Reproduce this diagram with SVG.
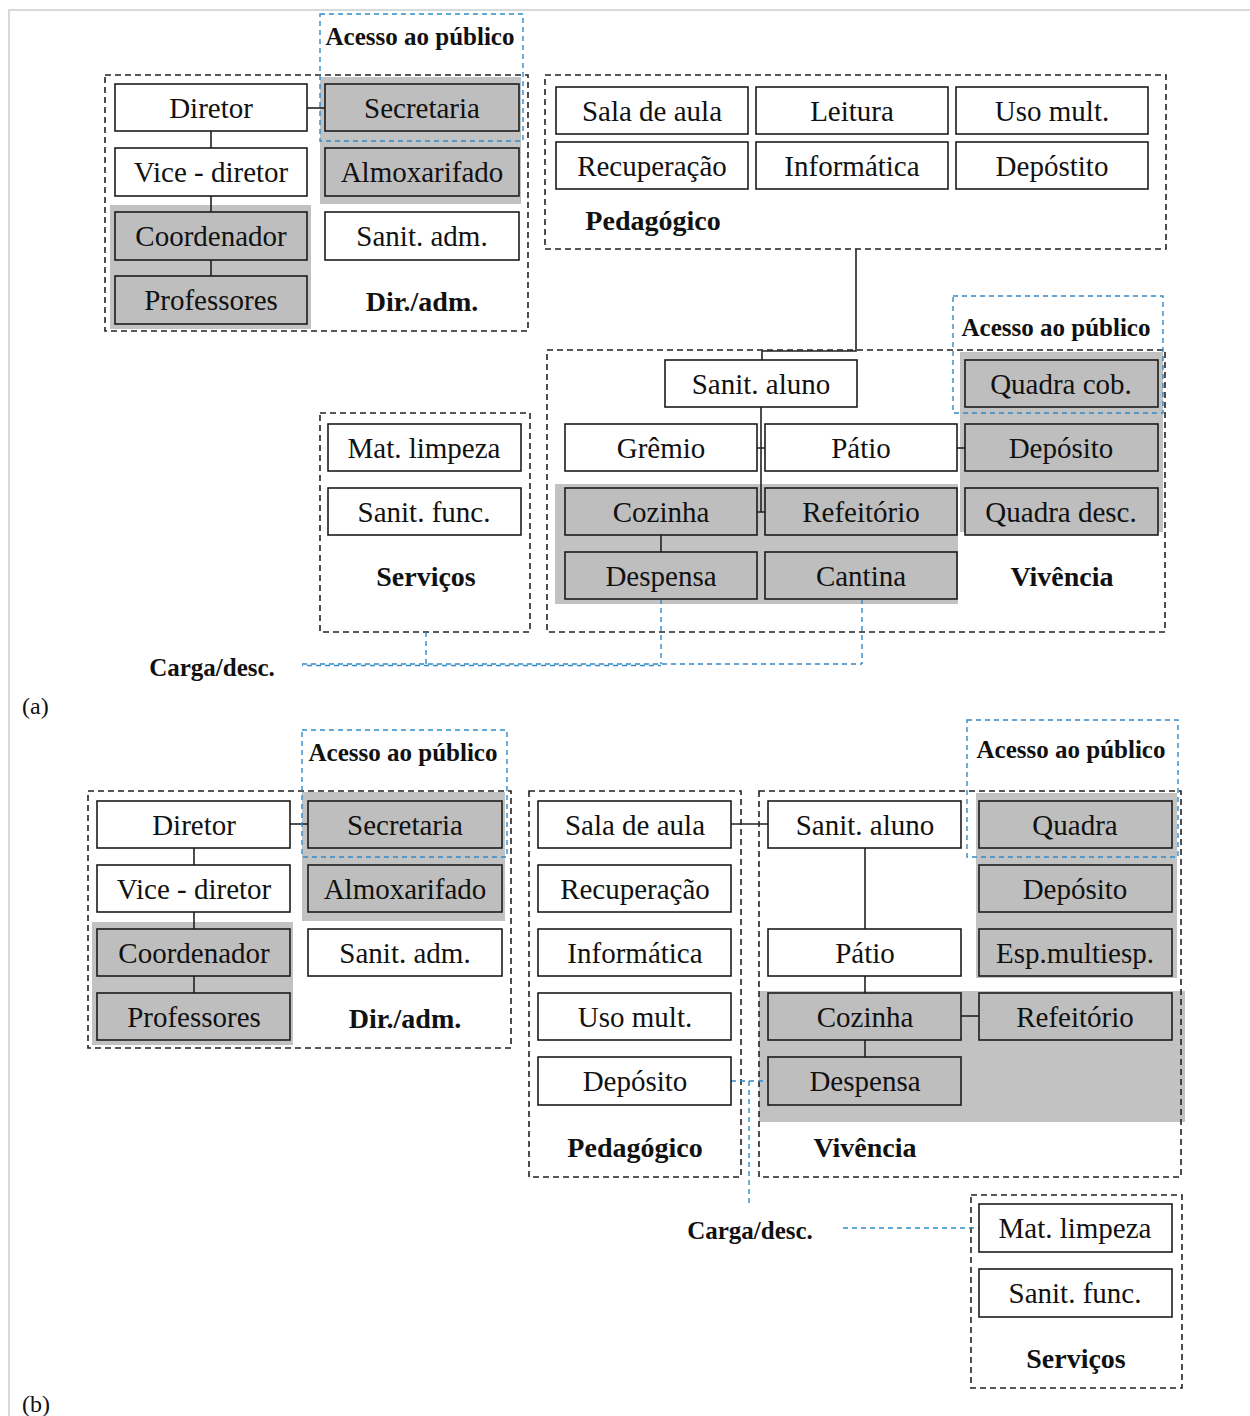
<svg xmlns="http://www.w3.org/2000/svg" width="1250" height="1416" viewBox="0 0 1250 1416">
  <style>
    .bg { fill: #ffffff; }
    .frame { stroke: #d9d9d9; stroke-width: 2; fill: none; }
    .shade { fill: #c2c2c2; }
    .n { fill: #ffffff; stroke: #1c1c1c; stroke-width: 1.6; }
    .g { fill: #bebebe; stroke: #1c1c1c; stroke-width: 1.6; }
    .grp { fill: none; stroke: #222222; stroke-width: 1.6; stroke-dasharray: 6 4; }
    .pub { fill: none; stroke: #2f8ac8; stroke-width: 1.4; stroke-dasharray: 5 4; }
    .wire { fill: none; stroke: #222222; stroke-width: 1.6; }
    .load { fill: none; stroke: #2f8ac8; stroke-width: 1.4; stroke-dasharray: 5 4; }
    text { font-family: "Liberation Serif", "Times New Roman", serif; fill: #111111; text-anchor: middle; }
    .t { font-size: 29px; }
    .lb { font-size: 28px; font-weight: bold; }
    .pl { font-size: 25px; font-weight: bold; }
    .cap { font-size: 24px; text-anchor: start; }
  </style>

  <rect class="bg" x="0" y="0" width="1250" height="1416"/>
  <!-- page frame (top and left rule) -->
  <path class="frame" d="M9 1416 V10 H1250"/>

  <!-- light grey pads behind grouped rooms -->
  <g id="pads">
    <rect class="shade" x="110" y="205" width="201" height="124"/>
    <rect class="shade" x="320" y="77" width="201" height="127"/>
    <rect class="shade" x="555" y="484" width="403" height="120"/>
    <rect class="shade" x="960" y="352" width="203" height="180"/>
    <rect class="shade" x="92" y="922" width="201" height="123"/>
    <rect class="shade" x="302" y="792" width="203" height="129"/>
    <rect class="shade" x="976" y="793" width="201" height="185"/>
    <rect class="shade" x="759" y="991" width="426" height="131"/>
  </g>

  <!-- sector boxes -->
  <g id="sectors">
    <g id="sector-diradm-a">
      <rect class="grp" x="105" y="75" width="423" height="256"/>
      <text class="lb" x="422" y="311">Dir./adm.</text>
    </g>
    <g id="sector-pedagogico-a">
      <rect class="grp" x="545" y="75" width="621" height="174"/>
      <text class="lb" x="653" y="230">Pedagógico</text>
    </g>
    <g id="sector-vivencia-a">
      <rect class="grp" x="547" y="350" width="618" height="282"/>
      <text class="lb" x="1062" y="586">Vivência</text>
    </g>
    <g id="sector-servicos-a">
      <rect class="grp" x="320" y="413" width="210" height="219"/>
      <text class="lb" x="426" y="586">Serviços</text>
    </g>
    <g id="sector-diradm-b">
      <rect class="grp" x="88" y="791" width="423" height="257"/>
      <text class="lb" x="405" y="1028">Dir./adm.</text>
    </g>
    <g id="sector-pedagogico-b">
      <rect class="grp" x="529" y="791" width="212" height="386"/>
      <text class="lb" x="635" y="1157">Pedagógico</text>
    </g>
    <g id="sector-vivencia-b">
      <rect class="grp" x="759" y="791" width="422" height="386"/>
      <text class="lb" x="865" y="1157">Vivência</text>
    </g>
    <g id="sector-servicos-b">
      <rect class="grp" x="971" y="1195" width="211" height="193"/>
      <text class="lb" x="1076" y="1368">Serviços</text>
    </g>
  </g>

  <!-- connectors -->
  <g id="connectors">
    <!-- (a) administration chain -->
    <path class="wire" d="M307 108 H325"/>
    <path class="wire" d="M211 131 V148 M211 196 V212 M211 260 V276"/>
    <!-- (a) pedagogical block to student toilets -->
    <path class="wire" d="M856 249 V351 H762 V360"/>
    <!-- (a) living area -->
    <path class="wire" d="M761 407 V512"/>
    <path class="wire" d="M757 448 H765 M757 512 H765"/>
    <path class="wire" d="M957 448 H965"/>
    <path class="wire" d="M661 535 V552"/>
    <!-- (a) loading / unloading -->
    <path class="load" d="M302 664 H862"/>
    <path class="load" d="M302 665.5 H661" stroke-dashoffset="4"/>
    <path class="load" d="M426 632 V664 M661 599 V664 M862 599 V664"/>

    <!-- (b) administration chain -->
    <path class="wire" d="M290 824 H308"/>
    <path class="wire" d="M194 848 V865 M194 912 V929 M194 976 V993"/>
    <!-- (b) classroom to toilets and living area -->
    <path class="wire" d="M731 824 H768"/>
    <path class="wire" d="M865 848 V929 M865 976 V993 M865 1040 V1057"/>
    <path class="wire" d="M961 1016 H979"/>
    <!-- (b) loading / unloading -->
    <path class="load" d="M731 1081 H768 M749 1081 V1203"/>
    <path class="load" d="M843 1228 H979"/>
  </g>

  <!-- (a) direction / administration -->
  <g id="a-diretor"><rect class="n" x="115" y="84" width="192" height="47"/><text class="t" x="211" y="118">Diretor</text></g>
  <g id="a-secretaria"><rect class="g" x="325" y="84" width="194" height="47"/><text class="t" x="422" y="118">Secretaria</text></g>
  <g id="a-vice-diretor"><rect class="n" x="115" y="148" width="192" height="48"/><text class="t" x="211" y="182">Vice - diretor</text></g>
  <g id="a-almoxarifado"><rect class="g" x="325" y="148" width="194" height="48"/><text class="t" x="422" y="182">Almoxarifado</text></g>
  <g id="a-coordenador"><rect class="g" x="115" y="212" width="192" height="48"/><text class="t" x="211" y="246">Coordenador</text></g>
  <g id="a-sanit-adm"><rect class="n" x="325" y="212" width="194" height="48"/><text class="t" x="422" y="246">Sanit. adm.</text></g>
  <g id="a-professores"><rect class="g" x="115" y="276" width="192" height="48"/><text class="t" x="211" y="310">Professores</text></g>

  <!-- (a) pedagogical -->
  <g id="a-sala-de-aula"><rect class="n" x="556" y="87" width="192" height="47"/><text class="t" x="652" y="121">Sala de aula</text></g>
  <g id="a-leitura"><rect class="n" x="756" y="87" width="192" height="47"/><text class="t" x="852" y="121">Leitura</text></g>
  <g id="a-uso-mult"><rect class="n" x="956" y="87" width="192" height="47"/><text class="t" x="1052" y="121">Uso mult.</text></g>
  <g id="a-recuperacao"><rect class="n" x="556" y="142" width="192" height="47"/><text class="t" x="652" y="176">Recuperação</text></g>
  <g id="a-informatica"><rect class="n" x="756" y="142" width="192" height="47"/><text class="t" x="852" y="176">Informática</text></g>
  <g id="a-deposito-ped"><rect class="n" x="956" y="142" width="192" height="47"/><text class="t" x="1052" y="176">Depóstito</text></g>

  <!-- (a) living area -->
  <g id="a-sanit-aluno"><rect class="n" x="665" y="360" width="192" height="47"/><text class="t" x="761" y="394">Sanit. aluno</text></g>
  <g id="a-quadra-cob"><rect class="g" x="965" y="360" width="193" height="47"/><text class="t" x="1061" y="394">Quadra cob.</text></g>
  <g id="a-gremio"><rect class="n" x="565" y="424" width="192" height="47"/><text class="t" x="661" y="458">Grêmio</text></g>
  <g id="a-patio"><rect class="n" x="765" y="424" width="192" height="47"/><text class="t" x="861" y="458">Pátio</text></g>
  <g id="a-deposito-viv"><rect class="g" x="965" y="424" width="193" height="47"/><text class="t" x="1061" y="458">Depósito</text></g>
  <g id="a-cozinha"><rect class="g" x="565" y="488" width="192" height="47"/><text class="t" x="661" y="522">Cozinha</text></g>
  <g id="a-refeitorio"><rect class="g" x="765" y="488" width="192" height="47"/><text class="t" x="861" y="522">Refeitório</text></g>
  <g id="a-quadra-desc"><rect class="g" x="965" y="488" width="193" height="47"/><text class="t" x="1061" y="522">Quadra desc.</text></g>
  <g id="a-despensa"><rect class="g" x="565" y="552" width="192" height="47"/><text class="t" x="661" y="586">Despensa</text></g>
  <g id="a-cantina"><rect class="g" x="765" y="552" width="192" height="47"/><text class="t" x="861" y="586">Cantina</text></g>

  <!-- (a) services -->
  <g id="a-mat-limpeza"><rect class="n" x="328" y="424" width="193" height="47"/><text class="t" x="424" y="458">Mat. limpeza</text></g>
  <g id="a-sanit-func"><rect class="n" x="328" y="488" width="193" height="47"/><text class="t" x="424" y="522">Sanit. func.</text></g>

  <!-- (b) direction / administration -->
  <g id="b-diretor"><rect class="n" x="97" y="801" width="193" height="47"/><text class="t" x="194" y="835">Diretor</text></g>
  <g id="b-secretaria"><rect class="g" x="308" y="801" width="194" height="47"/><text class="t" x="405" y="835">Secretaria</text></g>
  <g id="b-vice-diretor"><rect class="n" x="97" y="865" width="193" height="47"/><text class="t" x="194" y="899">Vice - diretor</text></g>
  <g id="b-almoxarifado"><rect class="g" x="308" y="865" width="194" height="47"/><text class="t" x="405" y="899">Almoxarifado</text></g>
  <g id="b-coordenador"><rect class="g" x="97" y="929" width="193" height="47"/><text class="t" x="194" y="963">Coordenador</text></g>
  <g id="b-sanit-adm"><rect class="n" x="308" y="929" width="194" height="47"/><text class="t" x="405" y="963">Sanit. adm.</text></g>
  <g id="b-professores"><rect class="g" x="97" y="993" width="193" height="47"/><text class="t" x="194" y="1027">Professores</text></g>

  <!-- (b) pedagogical -->
  <g id="b-sala-de-aula"><rect class="n" x="538" y="801" width="193" height="47"/><text class="t" x="635" y="835">Sala de aula</text></g>
  <g id="b-recuperacao"><rect class="n" x="538" y="865" width="193" height="47"/><text class="t" x="635" y="899">Recuperação</text></g>
  <g id="b-informatica"><rect class="n" x="538" y="929" width="193" height="47"/><text class="t" x="635" y="963">Informática</text></g>
  <g id="b-uso-mult"><rect class="n" x="538" y="993" width="193" height="47"/><text class="t" x="635" y="1027">Uso mult.</text></g>
  <g id="b-deposito-ped"><rect class="n" x="538" y="1057" width="193" height="48"/><text class="t" x="635" y="1091">Depósito</text></g>

  <!-- (b) living area -->
  <g id="b-sanit-aluno"><rect class="n" x="768" y="801" width="193" height="47"/><text class="t" x="865" y="835">Sanit. aluno</text></g>
  <g id="b-quadra"><rect class="g" x="979" y="801" width="193" height="47"/><text class="t" x="1075" y="835">Quadra</text></g>
  <g id="b-deposito-viv"><rect class="g" x="979" y="865" width="193" height="47"/><text class="t" x="1075" y="899">Depósito</text></g>
  <g id="b-patio"><rect class="n" x="768" y="929" width="193" height="47"/><text class="t" x="865" y="963">Pátio</text></g>
  <g id="b-esp-multiesp"><rect class="g" x="979" y="929" width="193" height="47"/><text class="t" x="1075" y="963">Esp.multiesp.</text></g>
  <g id="b-cozinha"><rect class="g" x="768" y="993" width="193" height="47"/><text class="t" x="865" y="1027">Cozinha</text></g>
  <g id="b-refeitorio"><rect class="g" x="979" y="993" width="193" height="47"/><text class="t" x="1075" y="1027">Refeitório</text></g>
  <g id="b-despensa"><rect class="g" x="768" y="1057" width="193" height="48"/><text class="t" x="865" y="1091">Despensa</text></g>

  <!-- (b) services -->
  <g id="b-mat-limpeza"><rect class="n" x="979" y="1204" width="193" height="48"/><text class="t" x="1075" y="1238">Mat. limpeza</text></g>
  <g id="b-sanit-func"><rect class="n" x="979" y="1269" width="193" height="48"/><text class="t" x="1075" y="1303">Sanit. func.</text></g>

  <!-- public access zones -->
  <g id="public-access">
    <g id="a-public-admin">
      <rect class="pub" x="320" y="14" width="203" height="127"/>
      <text class="pl" x="420" y="45">Acesso ao público</text>
    </g>
    <g id="a-public-court">
      <rect class="pub" x="953" y="296" width="210" height="117"/>
      <text class="pl" x="1056" y="336">Acesso ao público</text>
    </g>
    <g id="b-public-admin">
      <rect class="pub" x="302" y="730" width="205" height="127"/>
      <text class="pl" x="403" y="761">Acesso ao público</text>
    </g>
    <g id="b-public-court">
      <rect class="pub" x="967" y="720" width="211" height="137"/>
      <text class="pl" x="1071" y="758">Acesso ao público</text>
    </g>
  </g>

  <!-- loading labels -->
  <g id="a-carga"><text class="pl" x="212" y="676">Carga/desc.</text></g>
  <g id="b-carga"><text class="pl" x="750" y="1239">Carga/desc.</text></g>

  <!-- panel captions -->
  <text class="cap" x="22" y="714">(a)</text>
  <text class="cap" x="22" y="1412">(b)</text>
</svg>
